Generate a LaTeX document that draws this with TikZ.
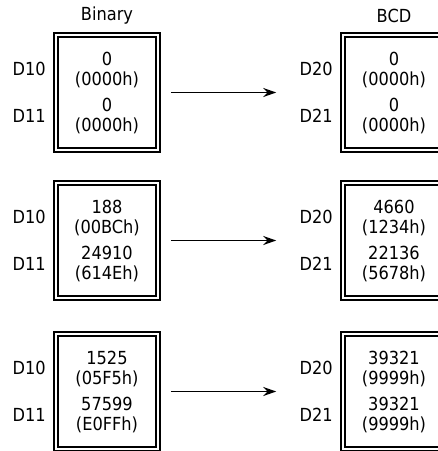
\documentclass[tikz,border=0pt]{standalone}
\usepackage{fontspec}
\setmainfont{DejaVu Sans Condensed}
\usetikzlibrary{arrows.meta}
\begin{document}
\begin{tikzpicture}[x=1pt,y=-1pt,
  regbox/.style={draw=black, line width=1.5pt, double=white, double distance=2.3pt,
    minimum width=102pt, minimum height=115pt, inner sep=0pt},
  val/.style={font=\fontsize{18}{19.5}\selectfont, align=center, inner sep=0pt},
  lab/.style={font=\fontsize{18}{19}\selectfont, anchor=east, inner sep=0pt},
  head/.style={font=\fontsize{18}{19}\selectfont, inner sep=0pt},
  arr/.style={line width=1.8pt, -{Stealth[length=13pt,width=9pt]}}]
\useasboundingbox (0,0) rectangle (438,451);
\node[head] (hb) at (107,15.5) {Binary};
\node[head] (hc) at (394,15.5) {BCD};
\foreach \i/\cy/\a/\b/\c/\d/\e/\f/\g/\h in {
  1/92.5/0/0000h/0/0000h/0/0000h/0/0000h,
  2/240.5/188/00BCh/24910/614Eh/4660/1234h/22136/5678h,
  3/391.5/1525/05F5h/57599/E0FFh/39321/9999h/39321/9999h}{
  \node[regbox] (l\i) at (107,\cy) {};
  \node[regbox] (r\i) at (394,\cy) {};
  \node[val] (l\i a) at (107,\cy-22.5) {\a\\(\b)};
  \node[val] (l\i b) at (107,\cy+23.5) {\c\\(\d)};
  \node[val] (r\i a) at (394,\cy-22.5) {\e\\(\f)};
  \node[val] (r\i b) at (394,\cy+23.5) {\g\\(\h)};
  \node[lab] (dl\i a) at (46,\cy-24) {D10};
  \node[lab] (dl\i b) at (46,\cy+23) {D11};
  \node[lab] (dr\i a) at (333,\cy-24) {D20};
  \node[lab] (dr\i b) at (333,\cy+23) {D21};
  \draw[arr] ([xshift=12pt]l\i.east) -- ([xshift=-66pt]r\i.west);
}
\end{tikzpicture}
\end{document}
